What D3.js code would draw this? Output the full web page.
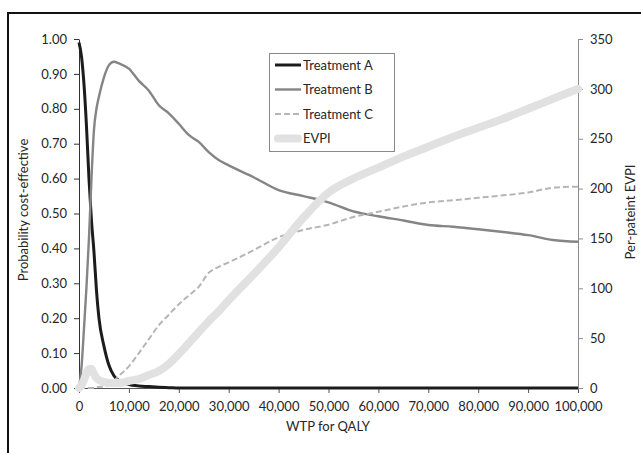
<!DOCTYPE html>
<html>
<head>
<meta charset="utf-8">
<script src="https://cdn.jsdelivr.net/npm/d3@7"></script>
<style>
  html, body { margin: 0; padding: 0; background: #fff; overflow: hidden; }
  svg { display: block; }
  svg text { font-family: Lato, "Open Sans", sans-serif; fill: #262626; }
</style>
</head>
<body>
<svg id="chart" width="641" height="453"></svg>
<script>
// willingness-to-pay grid shared by all series
const wtp = [0, 500, 1000, 1500, 2000, 2500, 3000, 3500, 4000, 5000, 6000, 7000, 8000,
  10000, 12000, 14000, 16000, 18000, 20000, 22000, 24000, 26000, 28000, 30000, 35000,
  40000, 45000, 50000, 55000, 60000, 65000, 70000, 75000, 80000, 85000, 90000, 95000, 100000];

const treatmentA = [0.99, 0.95, 0.87, 0.75, 0.60, 0.48, 0.39, 0.28, 0.20, 0.12, 0.065, 0.035, 0.021,
  0.010, 0.006, 0.004, 0.002, 0.001, 0, 0, 0, 0, 0, 0, 0,
  0, 0, 0, 0, 0, 0, 0, 0, 0, 0, 0, 0, 0];

const treatmentB = [0, 0.06, 0.17, 0.29, 0.43, 0.60, 0.74, 0.80, 0.835, 0.89, 0.925, 0.935, 0.93,
  0.915, 0.88, 0.852, 0.81, 0.787, 0.757, 0.725, 0.705, 0.676, 0.653, 0.638, 0.604,
  0.567, 0.55, 0.532, 0.506, 0.492, 0.48, 0.467, 0.462, 0.455, 0.447, 0.438, 0.424, 0.419];

const treatmentC = [0, 0, 0, 0, 0, 0, 0, 0.002, 0.003, 0.005, 0.01, 0.02, 0.035,
  0.062, 0.10, 0.14, 0.18, 0.21, 0.24, 0.265, 0.29, 0.33, 0.347, 0.36, 0.395,
  0.432, 0.453, 0.468, 0.49, 0.505, 0.52, 0.532, 0.538, 0.545, 0.552, 0.56, 0.574, 0.577];

const evpi = [0, 3, 8, 15, 19, 19, 14, 10, 8, 6, 5, 5, 5,
  7, 9, 13, 17, 24, 34, 45, 56, 67, 77, 88, 114,
  141, 171, 196, 210, 221, 232, 242, 252, 261, 270, 280, 290, 300];

const probTicks = [0, 0.1, 0.2, 0.3, 0.4, 0.5, 0.6, 0.7, 0.8, 0.9, 1.0];
const evpiTicks = [0, 50, 100, 150, 200, 250, 300, 350];
const wtpTicks = [0, 10000, 20000, 30000, 40000, 50000, 60000, 70000, 80000, 90000, 100000];

const legendLabels = ['Treatment A', 'Treatment B', 'Treatment C', 'EVPI'];

const svg = d3.select('#chart');

// outer frame: only the top and left edges are inside the picture
svg.append('path')
  .attr('d', 'M8,453V13H641')
  .attr('fill', 'none')
  .attr('stroke', '#111')
  .attr('stroke-width', 2);

const x = d3.scaleLinear().domain([0, 100000]).range([79, 578]);
const yL = d3.scaleLinear().domain([0, 1]).range([388, 39]);
const yR = d3.scaleLinear().domain([0, 350]).range([388, 39]);

const styleAxis = (g, color) => {
  g.selectAll('path').attr('stroke', color);
  g.selectAll('line').attr('stroke', color);
  g.selectAll('text')
    .style('font-family', 'Lato, "Open Sans", sans-serif')
    .style('font-size', '13px')
    .attr('fill', '#262626');
  g.attr('font-family', null).attr('font-size', null);
};

// x axis
svg.append('g')
  .attr('transform', 'translate(0,388)')
  .call(d3.axisBottom(x).tickValues(wtpTicks).tickFormat(d3.format(','))
    .tickSize(5).tickSizeOuter(0).tickPadding(9))
  .call(g => styleAxis(g, '#555'));

// left axis
svg.append('g')
  .attr('transform', 'translate(79,0)')
  .call(d3.axisLeft(yL).tickValues(probTicks).tickFormat(d3.format('.2f'))
    .tickSize(5).tickSizeOuter(0).tickPadding(7))
  .call(g => styleAxis(g, '#333'));

// right axis
svg.append('g')
  .attr('transform', 'translate(578,0)')
  .call(d3.axisRight(yR).tickValues(evpiTicks)
    .tickSize(5).tickSizeOuter(0).tickPadding(7))
  .call(g => styleAxis(g, '#8c8c8c'));

// axis titles
svg.append('text')
  .attr('x', 328).attr('y', 431)
  .attr('text-anchor', 'middle')
  .style('font-size', '13px')
  .text('WTP for QALY');

svg.append('text')
  .attr('transform', 'translate(28,210) rotate(-90)')
  .attr('text-anchor', 'middle')
  .style('font-size', '13px')
  .text('Probability cost-effective');

svg.append('text')
  .attr('transform', 'translate(635,212) rotate(-90)')
  .attr('text-anchor', 'middle')
  .style('font-size', '13px')
  .text('Per-pateint EVPI');

// series
const series = [
  { values: treatmentA, scale: yL, color: '#1c1c1c', width: 3, dash: null, cap: 'butt' },
  { values: treatmentB, scale: yL, color: '#858585', width: 2.4, dash: null, cap: 'butt' },
  { values: treatmentC, scale: yL, color: '#b5b5b5', width: 2, dash: '6,3', cap: 'butt' },
  { values: evpi, scale: yR, color: '#e1e1e1', width: 8, dash: null, cap: 'round' },
];

series.forEach((s) => {
  const rows = wtp.map((w, i) => ({ w, v: s.values[i] }));
  const line = d3.line()
    .x(d => x(d.w))
    .y(d => s.scale(d.v))
    .curve(d3.curveMonotoneX);
  svg.append('path')
    .datum(rows)
    .attr('d', line)
    .attr('fill', 'none')
    .attr('stroke', s.color)
    .attr('stroke-width', s.width)
    .attr('stroke-dasharray', s.dash)
    .attr('stroke-linecap', s.cap)
    .attr('stroke-linejoin', 'round');
});

// legend
const legend = svg.append('g');
legend.append('rect')
  .attr('x', 269.5).attr('y', 53.5)
  .attr('width', 125).attr('height', 98)
  .attr('fill', '#fff')
  .attr('stroke', '#8a8a8a')
  .attr('stroke-width', 1);

const item = legend.selectAll('g.item')
  .data(legendLabels)
  .enter()
  .append('g')
  .classed('item', true)
  .attr('transform', (d, i) => `translate(0,${65 + i * 24.5})`);

item.append('line')
  .attr('x1', (d, i) => (i === 3 ? 278 : 275))
  .attr('x2', (d, i) => (i === 3 ? 298 : 301))
  .attr('stroke', (d, i) => series[i].color)
  .attr('stroke-width', (d, i) => series[i].width)
  .attr('stroke-dasharray', (d, i) => series[i].dash)
  .attr('stroke-linecap', (d, i) => series[i].cap);

item.append('text')
  .attr('x', 303)
  .attr('y', 4.5)
  .style('font-size', '13px')
  .text(d => d);
</script>
</body>
</html>
